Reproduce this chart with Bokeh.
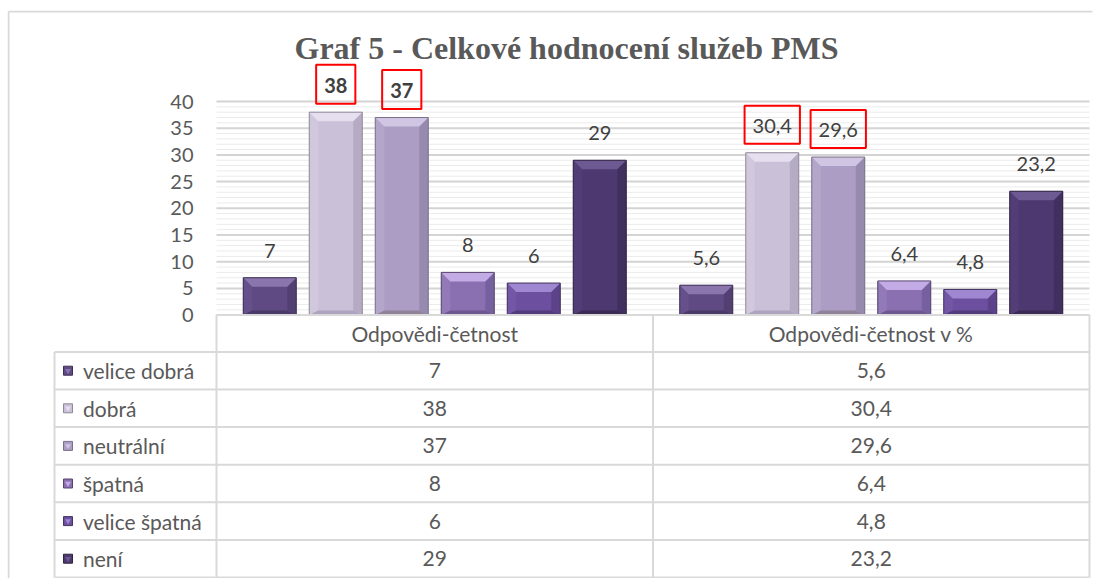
from bokeh.plotting import figure
from bokeh.models import Range1d, FixedTicker, ColumnDataSource
from bokeh.core.properties import value
from bokeh.embed import file_html
from bokeh.resources import INLINE

# ---------------- data ----------------
title_text = "Graf 5 - Celkové hodnocení služeb PMS"
groups = ["Odpovědi-četnost", "Odpovědi-četnost v %"]
categories = ["velice dobrá", "dobrá", "neutrální", "špatná", "velice špatná", "není"]
counts = [7, 38, 37, 8, 6, 29]
percents = [5.6, 30.4, 29.6, 6.4, 4.8, 23.2]
highlighted = ["dobrá", "neutrální"]
y_ticks = [0, 5, 10, 15, 20, 25, 30, 35, 40]
y_minor = list(range(0, 41))

# ---------------- styles ----------------
base_col = ["#5f4a84", "#cac0d8", "#ab9dc3", "#8b70b1", "#6c4f9e", "#4d3870"]
top_col = ["#8a76ad", "#e6dfef", "#d0c5e2", "#c3abe6", "#a087d2", "#6e5a92"]
lside_col = ["#66508c", "#d1c8de", "#b3a6ca", "#9279b8", "#7356a5", "#533d77"]
rside_col = ["#524072", "#b5abc5", "#978aaf", "#7760a0", "#5c4389", "#412f5f"]
bot_col = ["#4a3a68", "#aea4bf", "#908399", "#6f5890", "#533c7b", "#3a2a55"]
edge_col = ["#3d2f55", "#8e8a99", "#7a7088", "#55456e", "#45345f", "#2f2440"]
FONT = "Lato"
TXT = "#595959"

# layout constants (canvas pixels)
PX_X = 436.5          # pixels per category group
PX_Y = 5.34           # pixels per value unit
AREA_LEFT = 216       # canvas x of the plot area's left edge (x = 0)
ZERO_Y = 314.6        # canvas y of value 0
BAR_STEP = 66.0 / PX_X
BAR_W = 53.0 / PX_X
HEADER_PX = 36.8
ROW_PX = 37.6

def cx(px):   # canvas x -> data x
    return (px - AREA_LEFT) / PX_X

def cy(py):   # canvas y -> data y
    return (ZERO_Y - py) / PX_Y

def fmt(v):
    if float(v).is_integer():
        return str(int(v))
    return str(v).replace(".", ",")

series = [counts, percents]

# bars + bevel faces
bx, btop, bw, bfill, bline, blab, bhi, bgrp = [], [], [], [], [], [], [], []
faces_xs, faces_ys, faces_c = [], [], []
bev_x = 9.0 / PX_X
bev_y = 9.0 / PX_Y
for g, vals in enumerate(series):
    for i, v in enumerate(vals):
        x = g + 0.5 + (i - 2.5) * BAR_STEP
        l, r = x - BAR_W / 2, x + BAR_W / 2
        bx.append(x); btop.append(v); bw.append(BAR_W)
        bfill.append(base_col[i]); bline.append(edge_col[i])
        blab.append(fmt(v)); bhi.append(categories[i] in highlighted); bgrp.append(g)
        faces_xs.append([l, l + bev_x, l + bev_x, l]); faces_ys.append([v, v - bev_y, bev_y * 0.5, 0]); faces_c.append(lside_col[i])
        faces_xs.append([r, r - bev_x, r - bev_x, r]); faces_ys.append([v, v - bev_y, bev_y * 0.5, 0]); faces_c.append(rside_col[i])
        faces_xs.append([l, r, r - bev_x, l + bev_x]); faces_ys.append([0, 0, bev_y * 0.5, bev_y * 0.5]); faces_c.append(bot_col[i])
        faces_xs.append([l, r, r - bev_x, l + bev_x]); faces_ys.append([v, v, v - bev_y, v - bev_y]); faces_c.append(top_col[i])

bars = ColumnDataSource(dict(x=bx, top=btop, w=bw, fill=bfill, line=bline))

W, H = 1096, 578
MB_LEFT, MB_RIGHT, MB_TOP, MB_BOTTOM = 7, 4, 10, 0

p = figure(width=W, height=H, output_backend="svg", toolbar_location=None,
           x_range=Range1d(cx(MB_LEFT), cx(W - MB_RIGHT)),
           y_range=Range1d(cy(H - MB_BOTTOM), cy(MB_TOP)),
           min_border_left=MB_LEFT, min_border_right=MB_RIGHT,
           min_border_top=MB_TOP, min_border_bottom=MB_BOTTOM)
p.outline_line_color = None
p.background_fill_color = "white"
p.xaxis.visible = False
p.grid.visible = False

# y axis: placed inside the chart, labels right-aligned 23px left of the plot area
AXIS_X = 175
p.yaxis.fixed_location = cx(AXIS_X)
p.yaxis.ticker = FixedTicker(ticks=y_ticks)
p.yaxis.axis_line_color = None
p.yaxis.major_tick_line_color = None
p.yaxis.minor_tick_line_color = None
p.yaxis.major_tick_out = 0
p.yaxis.minor_tick_out = 0
p.yaxis.major_label_standoff = -(AREA_LEFT - 23 - AXIS_X)
p.yaxis.major_label_text_font = FONT
p.yaxis.major_label_text_font_size = "20px"
p.yaxis.major_label_text_color = TXT

# outer chart-area border (left and top edges)
p.segment(x0=[cx(8), cx(8)], x1=[cx(8), cx(W + 10)], y0=[cy(11), cy(11)], y1=[cy(H + 10), cy(11)],
          line_color="#d9d9d9", line_width=2)

# title
p.text(x=[cx(294)], y=[cy(50)], text=[title_text], text_align="left", text_baseline="middle",
       y_offset=-3, text_font=value("Liberation Serif"), text_font_style="bold",
       text_font_size="32px", text_color=TXT)

# horizontal gridlines of the plot area
n_min = len(y_minor)
p.segment(x0=[0] * n_min, x1=[2] * n_min, y0=y_minor, y1=y_minor, line_color="#ebebeb", line_width=1)
n_maj = len(y_ticks)
p.segment(x0=[0] * n_maj, x1=[2] * n_maj, y0=y_ticks, y1=y_ticks, line_color="#d4d4d4", line_width=2)

# bars
p.vbar(x="x", top="top", width="w", bottom=0, source=bars,
       fill_color="fill", line_color=None)
p.patches(xs=faces_xs, ys=faces_ys, fill_color=faces_c, line_color=None)
p.vbar(x="x", top="top", width="w", bottom=0, source=bars,
       fill_color=None, line_color="line", line_width=1)

# value labels
plain = ColumnDataSource(dict(x=[a for a, h in zip(bx, bhi) if not h],
                              y=[a for a, h in zip(btop, bhi) if not h],
                              t=[a for a, h in zip(blab, bhi) if not h]))
p.text(x="x", y="y", text="t", source=plain, text_align="center", text_baseline="middle",
       y_offset=-27, text_font=value(FONT), text_font_size="20px", text_color="#404040")
for g, style in [(0, "bold"), (1, "normal")]:
    sel = [k for k in range(len(bx)) if bhi[k] and bgrp[k] == g]
    src = ColumnDataSource(dict(x=[bx[k] for k in sel], y=[btop[k] for k in sel], t=[blab[k] for k in sel]))
    p.text(x="x", y="y", text="t", source=src, text_align="center", text_baseline="middle",
           y_offset=-28, text_font=value(FONT), text_font_size="20px", text_color="#404040",
           text_font_style=style, border_line_color="#ff0000", border_line_width=2,
           padding=dict(left=8, right=8, top=13, bottom=11))

# ---------------- data table ----------------
nrows = len(categories)
def row_y(k):
    # k = 0 top of header, 1 bottom of header, ... nrows+1 bottom of table
    if k == 0:
        return 0.0
    return cy(ZERO_Y + HEADER_PX + (k - 1) * ROW_PX)

tbl_left = cx(54)
hx0, hx1, hy = [0], [2], [row_y(0)]
for k in range(1, nrows + 2):
    hx0.append(tbl_left); hx1.append(2); hy.append(row_y(k))
p.segment(x0=hx0, x1=hx1, y0=hy, y1=hy, line_color="#d9d9d9", line_width=2)
vx = [tbl_left, 0, 1, 2]
vy0 = [row_y(1), row_y(0), row_y(0), row_y(0)]
vy1 = [row_y(nrows + 1)] * 4
p.segment(x0=vx, x1=vx, y0=vy0, y1=vy1, line_color="#d9d9d9", line_width=2)

p.text(x=[g + 0.5 for g in range(len(groups))], y=[(row_y(0) + row_y(1)) / 2] * len(groups),
       text=groups, text_align="center", text_baseline="middle", text_font=value(FONT),
       text_font_size="21px", text_color=TXT)

rows_y = [(row_y(k) + row_y(k + 1)) / 2 for k in range(1, nrows + 1)]
p.scatter(x=[cx(67.5)] * nrows, y=rows_y, marker="square", size=9,
          fill_color=base_col, line_color=edge_col, line_width=1)
p.scatter(x=[cx(67.5)] * nrows, y=rows_y, marker="inverted_triangle", size=6,
          fill_color=top_col, line_color=None)
p.text(x=[cx(82.5)] * nrows, y=rows_y, text=categories,
       text_align="left", text_baseline="middle", text_font=value(FONT),
       text_font_size="21px", text_color=TXT)
for g, vals in enumerate(series):
    p.text(x=[g + 0.5] * nrows, y=rows_y, text=[fmt(v) for v in vals],
           text_align="center", text_baseline="middle", text_font=value(FONT),
           text_font_size="21px", text_color=TXT)

open("out.html", "w").write(file_html(p, INLINE))
